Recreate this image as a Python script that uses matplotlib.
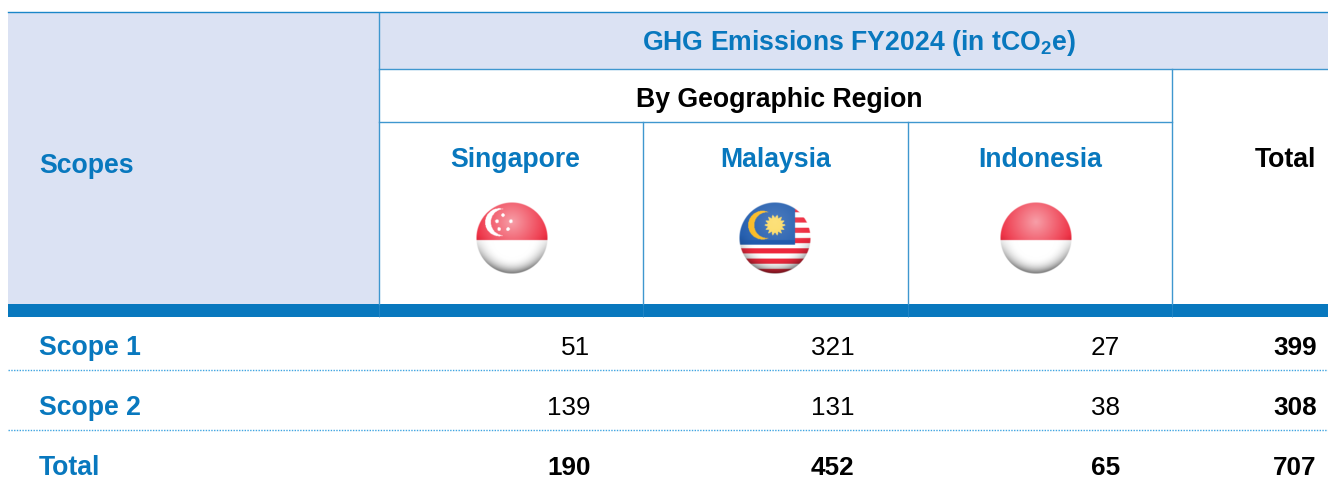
import numpy as np
import matplotlib
matplotlib.use('Agg')
import matplotlib.pyplot as plt
from matplotlib.patches import Rectangle

plt.rcParams['font.family'] = ['Liberation Sans', 'DejaVu Sans']
plt.rcParams['mathtext.fontset'] = 'custom'
plt.rcParams['mathtext.bf'] = 'Liberation Sans:bold'
plt.rcParams['mathtext.rm'] = 'Liberation Sans:bold'

title = r'GHG Emissions FY2024 (in tCO$_{\mathbf{2}}$e)'
subtitle = 'By Geographic Region'
regions = ['Singapore', 'Malaysia', 'Indonesia']
scopes = ['Scope 1', 'Scope 2', 'Total']
singapore = [51, 139, 190]
malaysia = [321, 131, 452]
indonesia = [27, 38, 65]
totals = [399, 308, 707]

blue = '#0878be'
line = '#3f97cf'
fill = '#dbe2f3'
fs = 19.2
fs_num = 18.8


def sphere(kind):
    # flag painted on a unit grid, then shaded like a ball
    n = 140
    v, u = np.mgrid[-1:1:n*1j, -1:1:n*1j]
    r = np.sqrt(u**2 + v**2)
    red = np.array([0.93, 0.16, 0.24])
    img = np.ones((n, n, 3))
    glow_amount = 0.55
    if kind == 'Malaysia':
        stripe = np.floor((v + 1) / 2 * 14).astype(int) % 2 == 1
        img[stripe] = red
        img[(v < 0.19) & (u < 0.56)] = [0.13, 0.36, 0.68]
        moon = (np.hypot(u + 0.35, v + 0.36) < 0.40) & (np.hypot(u + 0.22, v + 0.36) > 0.36)
        img[moon] = [0.98, 0.72, 0.10]
        ang = np.arctan2(v + 0.36, u)
        img[np.hypot(u, v + 0.36) < 0.25 + 0.04 * np.cos(14 * ang)] = [0.99, 0.85, 0.35]
        glow_amount = 0.2
    else:
        img[v < 0.06] = red
    if kind == 'Singapore':
        moon = (np.hypot(u + 0.36, v + 0.44) < 0.39) & (np.hypot(u + 0.22, v + 0.44) > 0.37)
        img[moon] = 1
        for sx, sy in [(-0.25, -0.64), (-0.42, -0.47), (-0.03, -0.47), (-0.36, -0.25), (-0.11, -0.25)]:
            img[np.hypot(u - sx, v - sy) < 0.05] = 1
    # light from the top middle, grey towards the bottom rim
    glow = np.clip(1 - np.hypot(u, v + 0.45) / 1.1, 0, 1)[..., None] * (v < 0.06)[..., None]
    img = img + (1 - img) * glow * glow_amount
    dark = np.clip((r - 0.55) / 0.45, 0, 1)[..., None] ** 2 * np.clip(v + 0.1, 0, 1)[..., None]
    img = img * (1 - 0.55 * dark)
    alpha = np.clip((1 - r) * n / 2, 0, 1)
    return np.dstack([img, alpha])


fig = plt.figure(figsize=(13.28, 4.84), dpi=100)
ax = fig.add_axes([0, 0, 1, 1])
ax.axis('off')

col_x = [379, 643, 908, 1172]
num_right = [590.5, 854.5, 1120, 1316.5]
flag_x = [512, 775, 1036]
head_x = [515, 776, 1040.5]
row_y = [348, 408, 468]

# header blocks
ax.add_patch(Rectangle((8, 12), 371, 292, fc=fill, ec='none'))
ax.add_patch(Rectangle((379, 12), 949, 57, fc=fill, ec='none'))
ax.add_patch(Rectangle((8, 304), 1320, 13, fc=blue, ec='none'))

ax.plot([8, 1328], [12, 12], color='#1a86c8', lw=1)
ax.plot([379, 1328], [69, 69], color=line, lw=1)
ax.plot([379, 1172], [121.5, 121.5], color=line, lw=1)
for x, top in zip(col_x, [13, 122, 122, 69]):
    ax.plot([x, x], [top, 304], color=line, lw=1)
    ax.plot([x, x], [304, 317], color=line, lw=0.5, alpha=0.6)
for y in [370, 430]:
    ax.plot([8, 1328], [y, y], color='#3fa4e0', lw=1, ls=(0, (1, 1)))

ax.text(859, 43, title, color=blue, fontsize=fs, fontweight='bold', ha='center', va='center')
ax.text(779.5, 100, subtitle, color='black', fontsize=fs, fontweight='bold', ha='center', va='center')
ax.text(39, 166, 'Scopes', color=blue, fontsize=fs, fontweight='bold', ha='left', va='center')
ax.text(1316.5, 160, 'Total', color='black', fontsize=fs, fontweight='bold', ha='right', va='center')

for name, cx, hx in zip(regions, flag_x, head_x):
    ax.text(hx, 160, name, color=blue, fontsize=fs, fontweight='bold', ha='center', va='center')
    ax.imshow(sphere(name), extent=[cx - 36, cx + 36, 274, 202], aspect='auto', zorder=3,
              interpolation='bilinear')

for i, scope in enumerate(scopes):
    weight = 'bold' if scope == 'Total' else 'normal'
    ax.text(39, row_y[i], scope, color=blue, fontsize=fs, fontweight='bold', ha='left', va='center')
    for vals, x in zip([singapore, malaysia, indonesia], num_right):
        ax.text(x, row_y[i], str(vals[i]), color='black', fontsize=fs_num, fontweight=weight, ha='right', va='center')
    ax.text(num_right[3], row_y[i], str(totals[i]), color='black', fontsize=fs_num, fontweight='bold', ha='right', va='center')

ax.set_xlim(0, 1328)
ax.set_ylim(484, 0)
fig.savefig('out.png', dpi=100)
